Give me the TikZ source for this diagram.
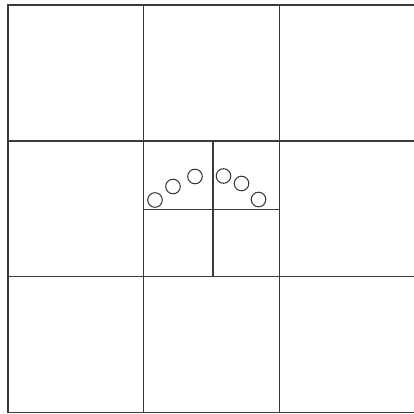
\documentclass[tikz,border=0pt]{standalone}
\usepackage{tikz}
\definecolor{ink}{HTML}{3A3A3A}
\tikzset{
  gridline/.style={ink,line width=1pt},
  bead/.style={ink,line width=0.8pt}
}
\begin{document}
\begin{tikzpicture}[x=0.02646cm,y=-0.02646cm]
  \useasboundingbox (0,0) rectangle (414,414);
  % outer frame (open on the right)
  \draw[gridline] (414,5) -- (8,5) -- (8,412.5) -- (414,412.5);
  % three by three grid
  \foreach \yy in {141,276.5}
    \draw[gridline] (8,\yy) -- (414,\yy);
  \foreach \xx in {143.5,279.5}
    \draw[gridline] (\xx,5) -- (\xx,412.5);
  % centre cell split in four
  \draw[gridline] (213,141) -- (213,276.5);
  \draw[gridline] (143.5,209.5) -- (279.5,209.5);
  % arc of small circles
  \foreach \cx/\cy in {155/200,173/186.5,195/176.5,223.5/176,241.5/183.5,258.5/199.5}
    \draw[bead] (\cx,\cy) circle (7.3);
\end{tikzpicture}
\end{document}
